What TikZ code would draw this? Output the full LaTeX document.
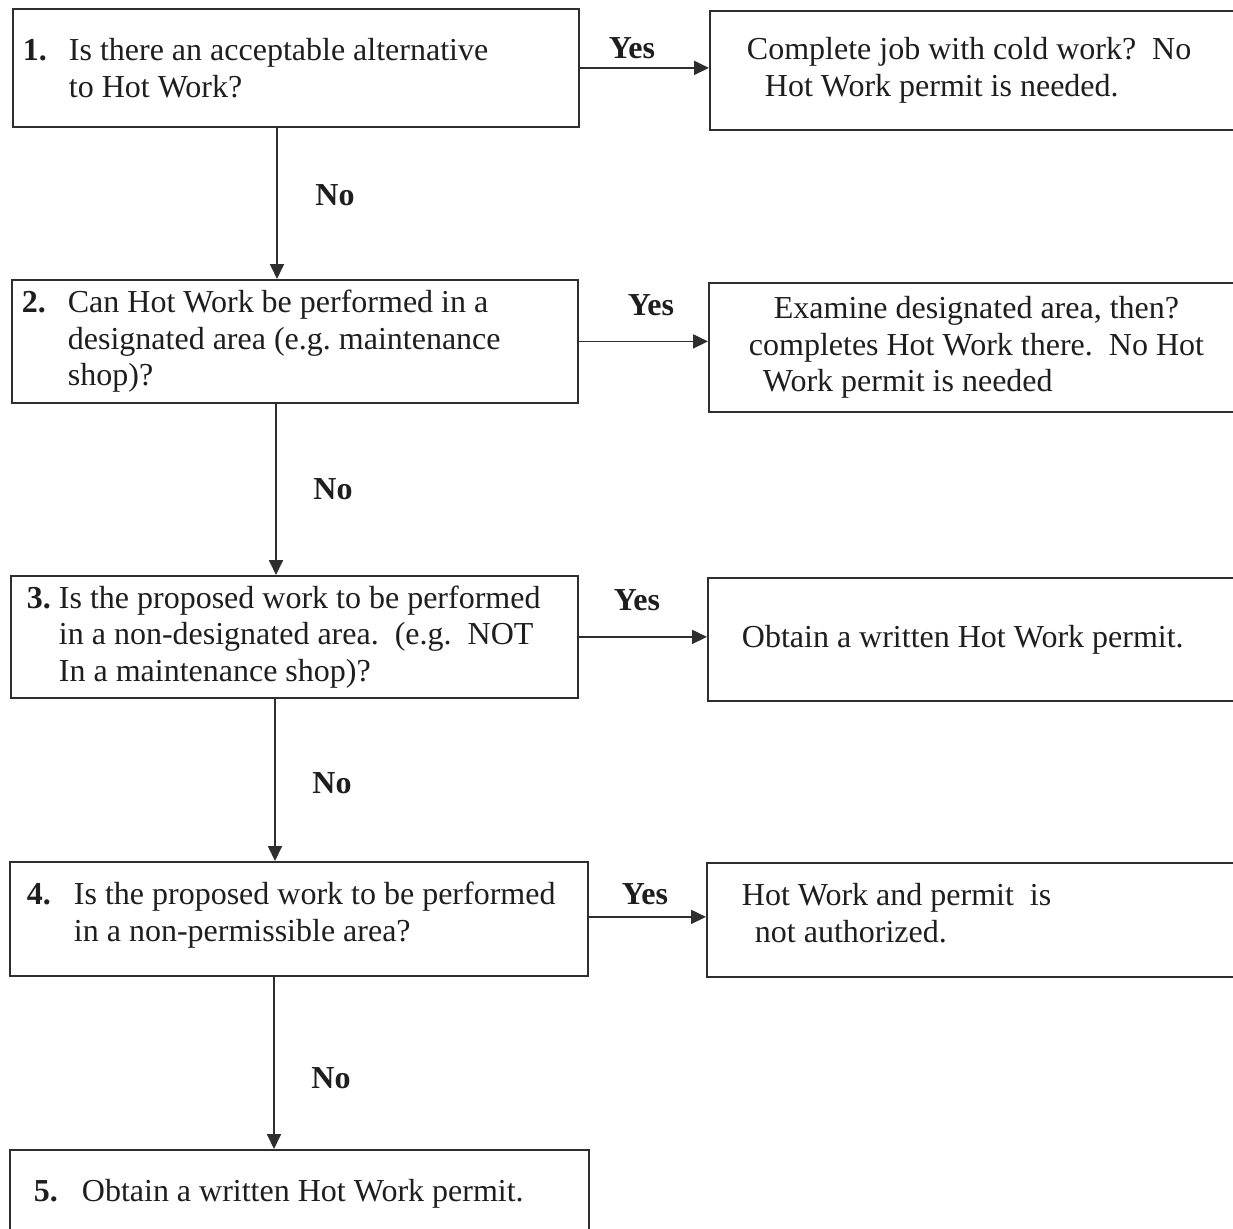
\documentclass[tikz,border=0pt]{standalone}
\usepackage{fontspec}
\setmainfont{Liberation Serif}
\usetikzlibrary{arrows.meta}
\definecolor{ink}{HTML}{1E1E1E}
\definecolor{edgec}{HTML}{2E2E2E}
\frenchspacing
\begin{document}
\begin{tikzpicture}[x=1pt,y=-1pt,
  box/.style={draw=edgec, line width=1.8pt, rectangle, anchor=north west, align=flush left, text=ink,
    font=\fontsize{32}{36.5}\selectfont, inner ysep=0pt},
  rbox/.style={box, text width=560pt},
  arr/.style={draw=edgec, line width=1.8pt, -{Triangle[length=15pt,width=14pt]}},
  lbl/.style={font=\fontsize{32}{36.5}\selectfont\bfseries, text=ink, inner sep=0pt}
]
\clip (0,0) rectangle (1233,1228);
\fill[white] (0,0) rectangle (1233,1228);

% question boxes
\node[box, minimum width=566pt, minimum height=118pt, inner xsep=10pt, text width=546pt] (L1) at (12,8)
  {\makebox[46pt][l]{\textbf{1.}}Is there an acceptable alternative\\\hspace*{46pt}to Hot Work?};
\node[box, minimum width=566pt, minimum height=123pt, inner xsep=10pt, text width=546pt] (L2) at (11,279)
  {\makebox[46pt][l]{\textbf{2.}}Can Hot Work be performed in a\\\hspace*{46pt}designated area (e.g. maintenance\\\hspace*{46pt}shop)?};
\node[box, minimum width=567pt, minimum height=122pt, inner xsep=16pt, text width=535pt] (L3) at (10,575)
  {\makebox[32pt][l]{\textbf{3.}}Is the proposed work to be performed\\\hspace*{32pt}in a non-designated area.~ (e.g.~ NOT\\\hspace*{32pt}In a maintenance shop)?};
\node[box, minimum width=578pt, minimum height=114pt, inner xsep=17pt, text width=544pt] (L4) at (9,861)
  {\makebox[47pt][l]{\textbf{4.}}Is the proposed work to be performed\\\hspace*{47pt}in a non-permissible area?\\[-22pt]\mbox{}};
\node[box, minimum width=579pt, minimum height=118pt, inner xsep=24pt, text width=531pt] (L5) at (9,1149)
  {\makebox[48pt][l]{\textbf{5.}}Obtain a written Hot Work permit.\\\mbox{}};

% outcome boxes
\node[rbox, minimum height=119pt, inner xsep=37pt] (R1) at (709,10)
  {Complete job with cold work?~ No\\\hspace*{18pt}Hot Work permit is needed.};
\node[rbox, minimum height=129pt, inner xsep=40pt] (R2) at (708,282)
  {\hspace*{25pt}Examine designated area, then?\\completes Hot Work there.~ No Hot\\\hspace*{14pt}Work permit is needed};
\node[rbox, minimum height=123pt, inner xsep=34pt] (R3) at (707,577)
  {Obtain a written Hot Work permit.};
\node[rbox, minimum height=114pt, inner xsep=35pt] (R4) at (706,862)
  {Hot Work and permit~ is\\\hspace*{13pt}not authorized.\\[-22pt]\mbox{}};

% Yes connectors
\draw[arr] (L1.east) -- (L1.east -| R1.west);
\draw[arr] (L2.east) -- (L2.east -| R2.west);
\draw[arr] (L3.east) -- (L3.east -| R3.west);
\draw[arr] ([yshift=2pt]L4.east) -- ([yshift=2pt]L4.east -| R4.west);

% No connectors
\draw[arr] ([xshift=265pt]L1.south west) -- ([xshift=265pt]L1.south west |- L2.north);
\draw[arr] ([xshift=265pt]L2.south west) -- ([xshift=265pt]L2.south west |- L3.north);
\draw[arr] ([xshift=265pt]L3.south west) -- ([xshift=265pt]L3.south west |- L4.north);
\draw[arr] ([xshift=265pt]L4.south west) -- ([xshift=265pt]L4.south west |- L5.north);

% labels
\node[lbl] (y1) at (632,48) {Yes};
\node[lbl] (y2) at (651,305) {Yes};
\node[lbl] (y3) at (637,600) {Yes};
\node[lbl] (y4) at (645,894) {Yes};
\node[lbl] (n1) at (335,195) {No};
\node[lbl] (n2) at (333,489) {No};
\node[lbl] (n3) at (332,783) {No};
\node[lbl] (n4) at (331,1078) {No};
\end{tikzpicture}
\end{document}
